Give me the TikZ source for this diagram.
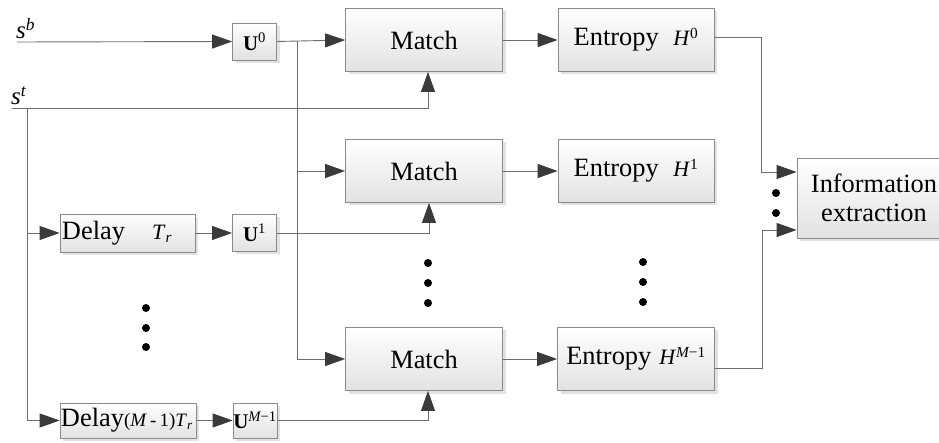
\documentclass[tikz,border=0pt]{standalone}
\usepackage{fontspec}
\setmainfont{Liberation Serif}
\usetikzlibrary{arrows.meta,shadows,calc}

\definecolor{linec}{HTML}{6E6E6E}
\definecolor{tipc}{HTML}{3A3A3A}
\definecolor{boxc}{HTML}{8A8A8A}
\definecolor{shadec}{HTML}{E2E2E2}

\tikzset{
  block/.style n args={2}{draw=boxc, line width=0.8bp,
    top color=white, bottom color=shadec,
    drop shadow={shadow xshift=3bp, shadow yshift=-3bp, fill=black!25, opacity=0.45},
    minimum width=#1bp, minimum height=#2bp, inner sep=0pt,
    font=\fontsize{26.5}{29}\selectfont},
  ublock/.style={block={44}{37}, font=\fontsize{21}{23}\selectfont},
  wire/.style={draw=linec, line width=0.9bp},
  flow/.style={wire, -{Triangle[length=20bp,width=14bp,color=tipc]}},
  dot/.style={fill=black},
}

\newcommand{\supit}[1]{\textsuperscript{\itshape #1}}

\begin{document}
\begin{tikzpicture}[x=1bp,y=-1bp]
\useasboundingbox (0,0) rectangle (939,443);

% input signals
\coordinate (sb) at (17,42);
\coordinate (st) at (12,108);
\coordinate (stv) at (27,108);
\node[anchor=base west, inner sep=0pt, font=\fontsize{25}{27}\selectfont] (sblab) at (16,39) {\textit{s}\supit{b}};
\node[anchor=base west, inner sep=0pt, font=\fontsize{25}{27}\selectfont] (stlab) at (11,105) {\textit{s}\supit{t}};

% transform blocks
\node[ublock] (U0) at (254.5,41.5) {\textbf{U}\textsuperscript{0}};
\node[ublock] (U1) at (254.5,233) {\textbf{U}\textsuperscript{1}};
\node[ublock, minimum height=35bp] (UM) at (255,420.5) {\textbf{U}\textsuperscript{\itshape M\upshape −1}};

% delay blocks
\node[block={135}{38}] (D1) at (127.5,233)
  {\makebox[131bp][l]{Delay\hspace{27bp}{\fontsize{22}{24}\selectfont\textit{T}\textsubscript{\itshape r}}}};
\node[block={136}{35}] (DM) at (128,420.5)
  {\makebox[134bp][l]{Delay{\fontsize{19}{22}\selectfont(\textit{M}\,-\,1)\textit{T}\textsubscript{\itshape r}}}};

% match blocks
\node[block={157}{63}] (M0) at (424,40) {Match};
\node[block={157}{63}] (M1) at (424,171) {Match};
\node[block={157}{63}] (MM) at (424,359) {Match};

% entropy blocks
\node[block={156}{63}] (E0) at (636,40) {Entropy\hspace{0.55em}{\fontsize{22}{24}\selectfont\textit{H}\textsuperscript{0}}};
\node[block={156}{63}] (E1) at (636,171) {Entropy\hspace{0.55em}{\fontsize{22}{24}\selectfont\textit{H}\textsuperscript{1}}};
\node[block={157}{63}] (EM) at (636,359) {Entropy\hspace{0.3em}{\fontsize{22}{24}\selectfont\textit{H}\textsuperscript{\itshape M\upshape −1}}};

% information extraction
\node[block={154}{80}, align=center] (IE) at (874,198) {Information\\extraction};

% top reference path
\draw[flow] (sb) -- (U0.west);
\draw[flow] (U0.east) -- (M0.west);
\coordinate (bus) at (297,41);
\draw[flow] (bus) |- (M1.west);
\draw[flow] (bus) |- (MM.west);

% test signal path
\draw[flow] (st) -| ($(M0.south)+(4,0)$);
\draw[flow] (stv) |- (D1.west);
\draw[flow] (stv) |- (DM.west);
\draw[flow] (D1.east) -- (U1.west);
\draw[flow] (DM.east) -- (UM.west);
\draw[flow] (U1.east) -| ($(M1.south)+(5,0)$);
\draw[flow] (UM.east) -| ($(MM.south)+(4,0)$);

% match -> entropy
\draw[flow] (M0.east) -- (E0.west);
\draw[flow] (M1.east) -- (E1.west);
\draw[flow] (MM.east) -- (EM.west);

% entropy -> information extraction
\coordinate (e0o) at ($(E0.east)+(0,-3)$);
\coordinate (emo) at ($(EM.east)+(0,9)$);
\draw[flow] (e0o) -| (761,172) -- (IE.west |- 0,172);
\draw[flow] (emo) -| (762,230) -- (IE.west |- 0,230);

% ellipsis dots
\foreach \y in {308,328,347} \fill[dot] (146,\y) circle (4bp);
\foreach \y in {263,283,303} \fill[dot] (428,\y) circle (4bp);
\foreach \y in {262,282,302} \fill[dot] (643,\y) circle (4bp);
\foreach \y in {193,213} \fill[dot] (776,\y) circle (4bp);
\end{tikzpicture}
\end{document}
